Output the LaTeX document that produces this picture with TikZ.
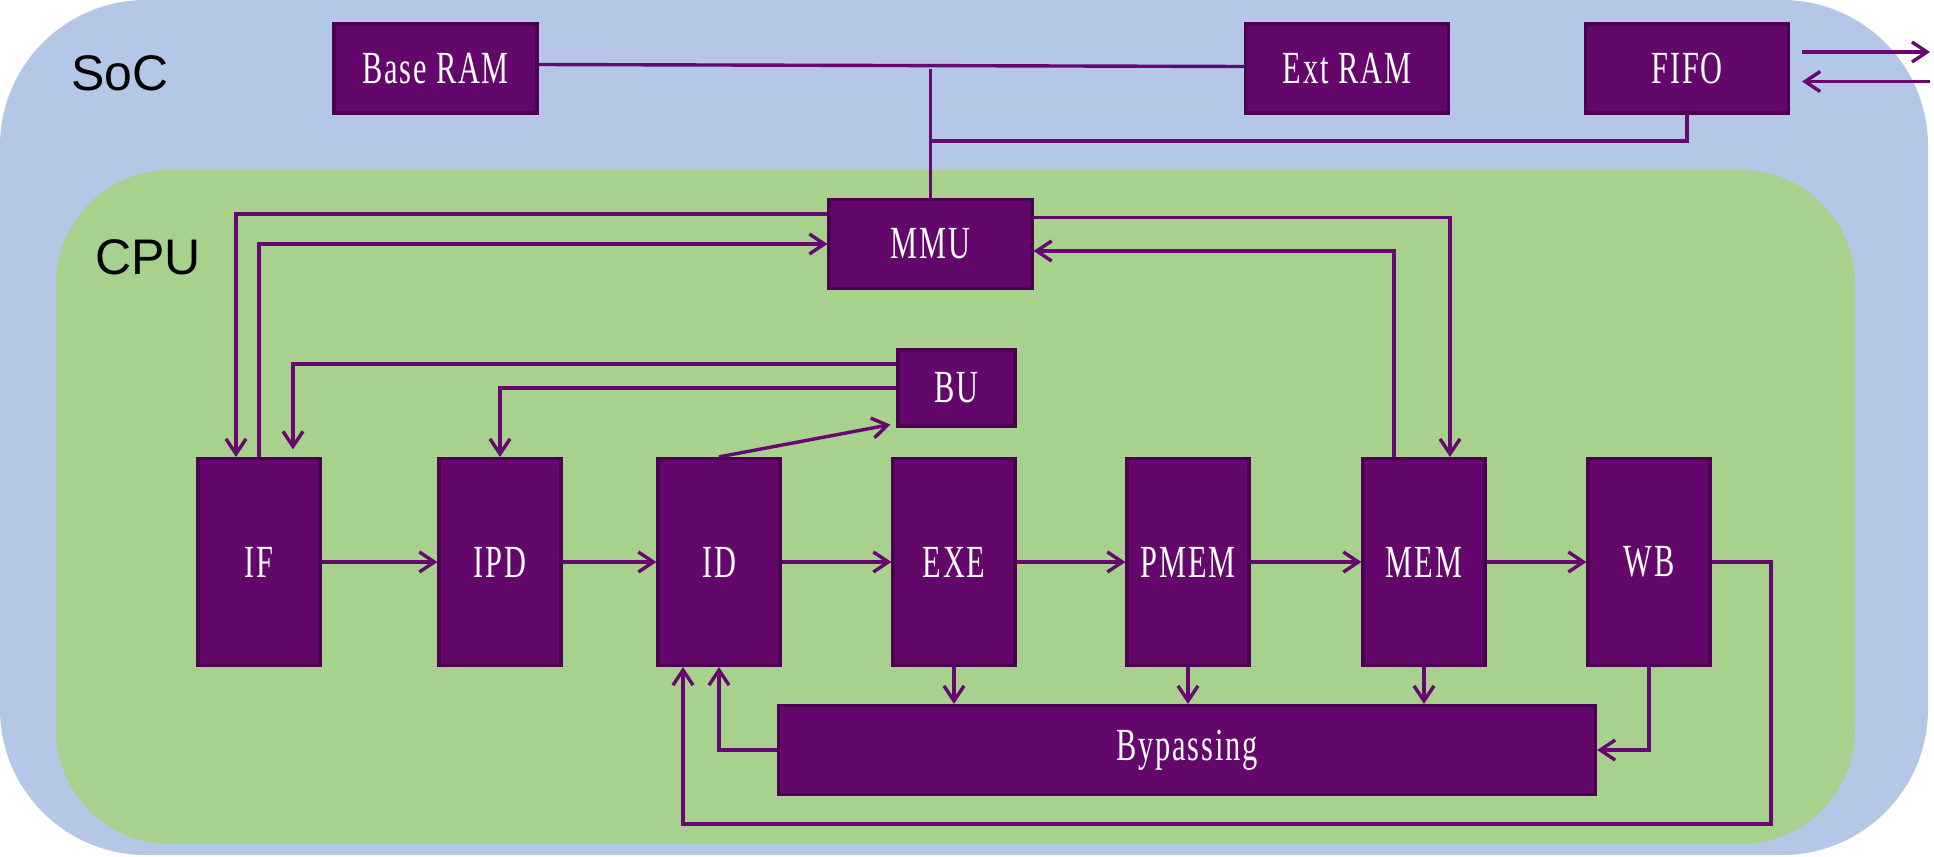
\documentclass[tikz,border=0pt]{standalone}
\usepackage{fontspec}
\usetikzlibrary{arrows.meta}
\newfontfamily\blkfont[FakeStretch=0.66,LetterSpace=4]{Liberation Serif}
\newfontfamily\lblfont{Liberation Sans}
\definecolor{socblue}{RGB}{180,199,231}
\definecolor{cpugreen}{RGB}{169,209,142}
\definecolor{blkfill}{RGB}{99,7,107}
\definecolor{blkline}{RGB}{76,0,84}
\definecolor{wirec}{RGB}{102,8,112}

\begin{document}
\begin{tikzpicture}[x=0.5pt,y=-0.5pt,
  blk/.style={draw=blkline, line width=1.6pt, fill=blkfill, text=white, font=\blkfont\fontsize{23}{26}\selectfont, inner sep=0pt},
  membox/.style={blk, minimum width=101.5pt, minimum height=44.5pt},
  stage/.style={blk, minimum width=61pt, minimum height=103.5pt},
  wire/.style={draw=wirec, line width=1.7pt},
  arr/.style={wire, -{Straight Barb[length=7.5pt,width=10pt]}},
  lbl/.style={anchor=west, font=\lblfont\fontsize{25}{30}\selectfont}]
\useasboundingbox (0,0) rectangle (1934,857);
\fill[socblue, rounded corners=73pt] (0,0) rectangle (1928,855);
\fill[cpugreen, rounded corners=57pt] (56,170) rectangle (1855,844);
\node[lbl] (soc) at (64,73) {SoC};
\node[lbl] (cpu) at (88,257) {CPU};

\node[membox] (base) at (435.5,68.5) {Base RAM};
\node[membox] (ext) at (1347,68.5) {Ext RAM};
\node[membox] (fifo) at (1687,68.5) {FIFO};
\node[membox] (mmu) at (930.5,244) {MMU};
\node[blk, minimum width=58.5pt, minimum height=38pt] (bu) at (956.5,388) {BU};
\foreach \name/\x in {IF/259,IPD/500,ID/719,EXE/954,PMEM/1188,MEM/1424,WB/1649}
  \node[stage] (\name) at (\x,562) {\name};
\node[blk, minimum width=408.5pt, minimum height=44.5pt] (byp) at (1187,750) {Bypassing};

% memory side
\draw[wire] ([shift={(0,-4)}]base.east) -- ([shift={(0,-2)}]ext.west);
\draw[wire] (mmu.north) -- (mmu.north |- base.east);
\coordinate (fifobus) at (930.5,141);
\draw[wire] (fifo.south) |- (fifobus);
\coordinate (ioout) at (1930,52);
\coordinate (ioin) at (1930,81.5);
\coordinate (fifoR) at ([shift={(12,0)}]fifo.east);
\draw[arr] (fifoR |- ioout) -- (ioout);
\draw[arr] (ioin) -- (fifoR |- ioin);

% mmu and bu
\draw[arr] ([shift={(0,-30)}]mmu.west) -| ([shift={(-23,0)}]IF.north);
\draw[arr] (IF.north) |- (mmu.west);
\draw[arr] ([shift={(0,-26.5)}]mmu.east) -| ([shift={(26,0)}]MEM.north);
\draw[arr] ([shift={(-30,0)}]MEM.north) |- ([shift={(0,7)}]mmu.east);
\draw[arr] ([shift={(0,-24)}]bu.west) -| ([shift={(34,-7.5)}]IF.north);
\draw[arr] (bu.west) -| (IPD.north);
\draw[arr] (ID.north) -- ([shift={(-6,-3)}]bu.south west);

% pipeline
\foreach \a/\b in {IF/IPD,IPD/ID,ID/EXE,EXE/PMEM,PMEM/MEM,MEM/WB}
  \draw[arr] (\a.east) -- (\b.west);
\foreach \s in {EXE,PMEM,MEM}
  \draw[arr] (\s.south) -- (\s.south |- byp.north);
\draw[arr] (WB.south) |- (byp.east);
\draw[arr] (byp.west) -| (ID.south);
\coordinate (wbloop) at (1771,824);
\draw[arr] (WB.east) -| (wbloop) -| ([shift={(-36,0)}]ID.south);
\end{tikzpicture}
\end{document}
